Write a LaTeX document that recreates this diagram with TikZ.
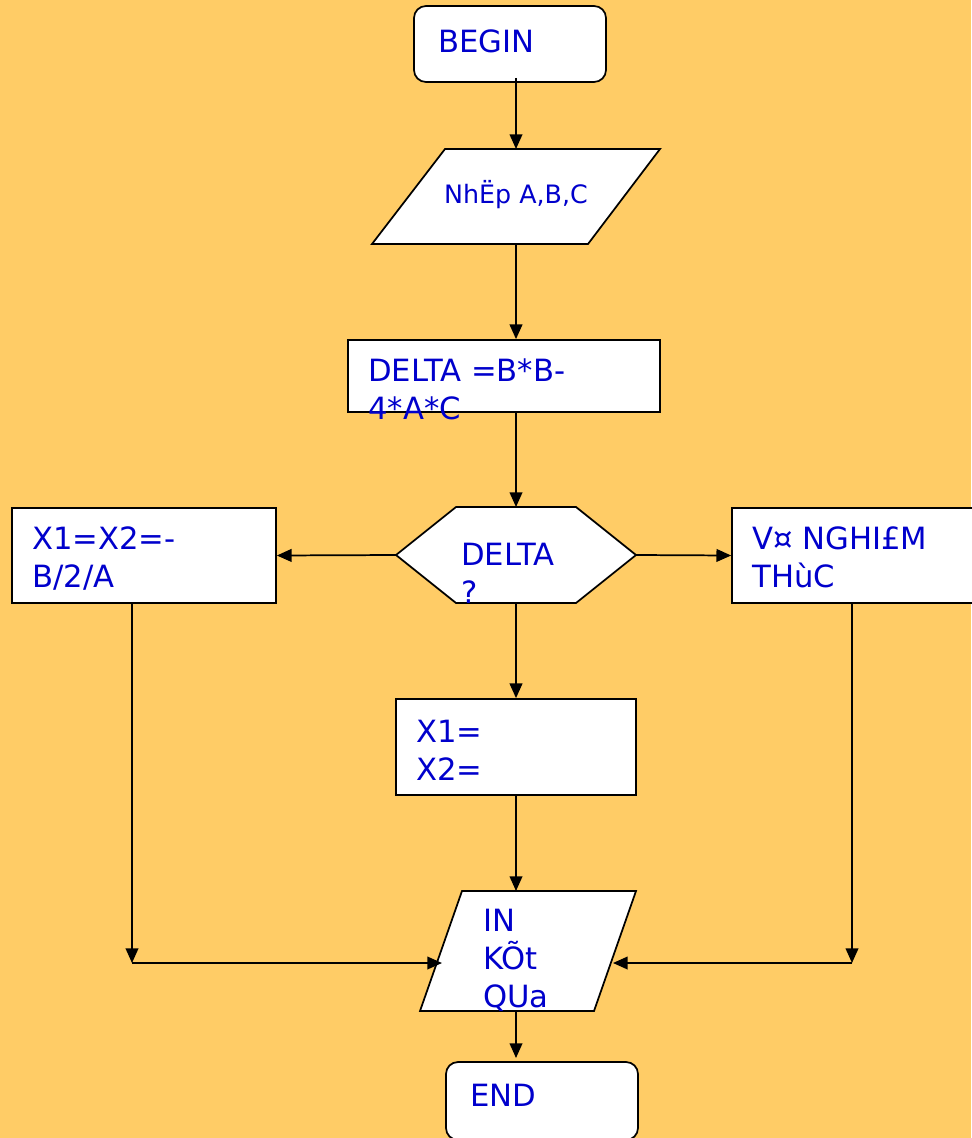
\documentclass[tikz,border=0pt]{standalone}
\usepackage{fontspec}
\setmainfont{DejaVu Sans}
\usetikzlibrary{arrows.meta}
\definecolor{bg}{HTML}{FFCC66}
\definecolor{txtblue}{HTML}{0000CC}
\tikzset{
  box/.style={draw,fill=white,line width=1.3pt,inner sep=0pt},
  shp/.style={draw,fill=white,line width=1.3pt},
  lbl/.style={text=txtblue,inner sep=0pt,anchor=north west,align=left,
    font=\fontsize{23}{28.5}\selectfont},
  arr/.style={line width=1.3pt,-{Triangle[length=11pt,width=9.5pt]}}
}
\begin{document}
\begin{tikzpicture}[x=0.75pt,y=-0.75pt]
  \useasboundingbox (0,0) rectangle (971,1138);
  \fill[bg] (0,0) rectangle (971,1138);

  \node[box,rounded corners=9pt,minimum width=144pt,minimum height=57pt] (begin) at (510,44) {};
  \node[lbl] (tbegin) at (438,29) {BEGIN};

  \draw[shp] (445,149) -- (660,149) -- (588,244) -- (372,244) -- cycle;
  \coordinate (inT) at (516,149);
  \coordinate (inB) at (516,244);
  \node[text=txtblue,inner sep=0pt,anchor=base,font=\fontsize{19}{23}\selectfont] (tin) at (516,203) {NhËp A,B,C};

  \node[box,minimum width=234pt,minimum height=54pt] (delta) at (504,376) {};
  \node[lbl] (tdelta) at (368,358) {DELTA =B*B-\\4*A*C};

  \draw[shp] (396,555) -- (456,507) -- (576,507) -- (636,555) -- (576,603) -- (456,603) -- cycle;
  \coordinate (hexN) at (516,507);
  \coordinate (hexS) at (516,603);
  \coordinate (hexW) at (396,555);
  \coordinate (hexE) at (636,555);
  \node[lbl] (thex) at (461,543) {DELTA\\?};

  \node[box,minimum width=198pt,minimum height=71.25pt] (kep) at (144,555.5) {};
  \node[lbl] (tkep) at (32,526) {X1=X2=-\\B/2/A};

  \node[box,minimum width=195pt,minimum height=71.25pt] (vo) at (862,555.5) {};
  \node[lbl] (tvo) at (752,526) {V¤ NGHI£M\\THùC};

  \node[box,minimum width=180pt,minimum height=72pt] (hai) at (516,747) {};
  \node[lbl] (thai) at (416,720) {X1=\\X2=};

  \draw[shp] (462,891) -- (636,891) -- (594,1011) -- (420,1011) -- cycle;
  \coordinate (outT) at (516,891);
  \coordinate (outB) at (516,1011);
  \coordinate (outW) at (442,963);
  \coordinate (outE) at (613,963);
  \node[lbl] (tout) at (483,909) {IN\\KÕt\\QUa};

  \node[box,rounded corners=9pt,minimum width=144pt,minimum height=58.5pt] (end) at (542,1101) {};
  \node[lbl] (tend) at (470,1084) {END};

  \coordinate (jl) at (132,963);
  \coordinate (jr) at (852,963);

  \draw[arr] (inT |- 0,78) -- (inT);
  \draw[arr] (inB) -- (inB |- delta.north);
  \draw[arr] (hexN |- delta.south) -- (hexN);
  \draw[arr] (hexW) -- (kep.east);
  \draw[arr] (hexE) -- (vo.west);
  \draw[arr] (hexS) -- (hexS |- hai.north);
  \draw[arr] (hexS |- hai.south) -- (outT);
  \draw[arr] (jl |- kep.south) -- (jl);
  \draw[arr] (jl) -- (outW);
  \draw[arr] (jr |- vo.south) -- (jr);
  \draw[arr] (jr) -- (outE);
  \draw[arr] (outB) -- (outB |- 0,1058);
\end{tikzpicture}
\end{document}
